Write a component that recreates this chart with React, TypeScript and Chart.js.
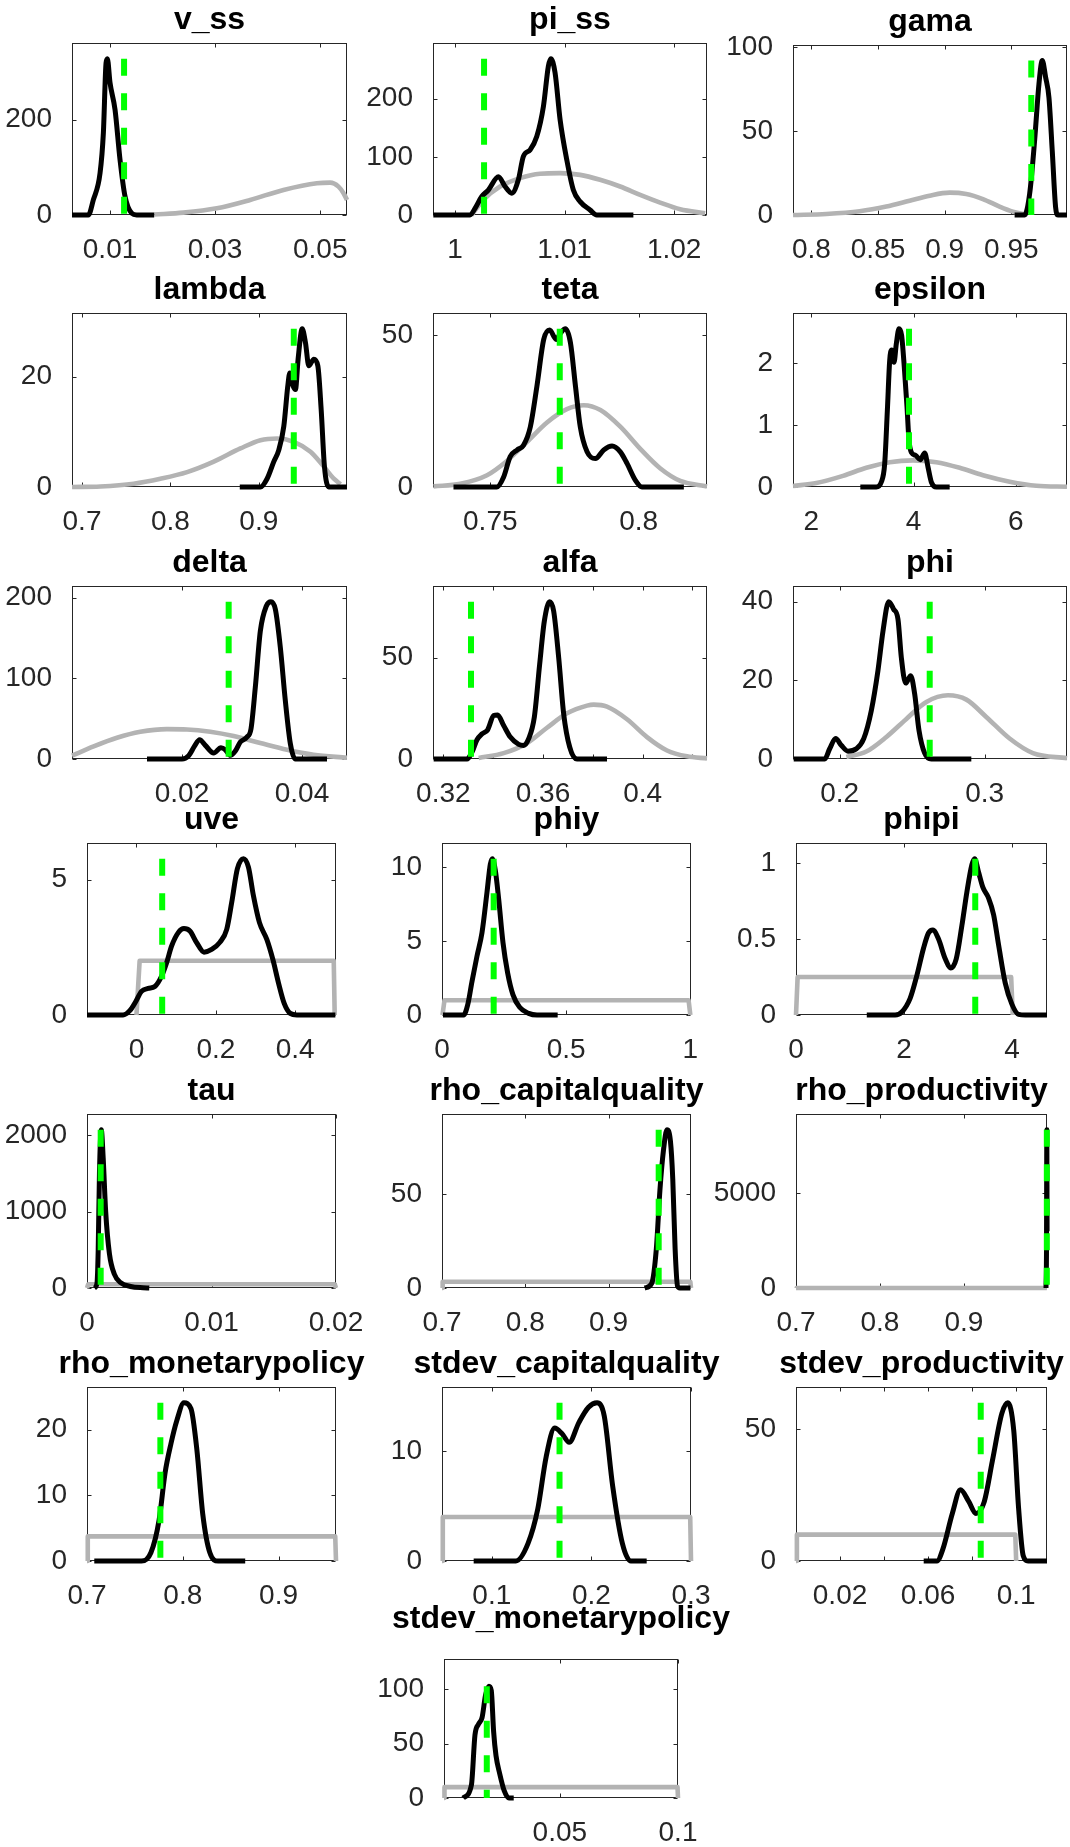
import React, { useEffect, useRef } from "react";
import { Chart, registerables } from "chart.js";
Chart.register(...registerables);

type Pt = [number, number];

// ---------------- data (x, density) ----------------
const VSS_POST: Pt[] = [[0.00276,0],[0.00587,0],[0.00682,31.6],[0.0081,88],[0.00873,172],[0.00924,319],[0.00949,328],[0.01,277],[0.01095,221],[0.0119,116],[0.01286,38.6],[0.01413,3.5],[0.01508,0],[0.0184,0]];
const VSS_PRIOR: Pt[] = [[0.0184,1],[0.02396,4.9],[0.03032,14],[0.03667,31.6],[0.04301,52.6],[0.04937,66.7],[0.0519,68],[0.05349,59.6],[0.05444,45.7],[0.0551,31.6]];
const VSS_MODE = 0.01267;

const PISS_POST: Pt[] = [[0.99802,0],[1.00137,0],[1.00183,11.5],[1.00244,31.7],[1.00304,43],[1.00396,66],[1.00457,49],[1.00518,37.5],[1.00578,60.5],[1.00624,101],[1.00685,112],[1.00746,135],[1.00807,187],[1.00852,256],[1.00874,269],[1.00913,245],[1.00959,164],[1.0102,95],[1.0108,43],[1.01142,23],[1.01233,8.7],[1.01294,0],[1.01628,0]];
const PISS_PRIOR: Pt[] = [[1.00152,0],[1.00259,26],[1.00411,49],[1.00594,63.5],[1.00776,71],[1.00959,72],[1.01142,69],[1.01324,60.5],[1.01507,49],[1.0169,34.6],[1.01872,21.3],[1.02055,9.8],[1.02283,3]];
const PISS_MODE = 1.00265;

const GAMA_POST: Pt[] = [[0.9525,0],[0.96,0],[0.96375,12.5],[0.9675,44.3],[0.97075,78],[0.97325,92],[0.97575,82],[0.97825,70],[0.98075,38],[0.98325,4.6],[0.985,0],[0.9918,0]];
const GAMA_PRIOR: Pt[] = [[0.7862,0],[0.8112,0.6],[0.8362,2.2],[0.8562,5],[0.8737,8.5],[0.8887,11.5],[0.9037,13.3],[0.9162,12.5],[0.9287,9.5],[0.9412,5],[0.9512,2],[0.96,0.4]];
const GAMA_MODE = 0.965;

const LAMBDA_POST: Pt[] = [[0.8785,0],[0.9019,0],[0.9094,1.5],[0.917,4.6],[0.9226,6.7],[0.9283,11],[0.9328,18.3],[0.9351,20.7],[0.9389,18.3],[0.9415,17.7],[0.9445,23.2],[0.9491,28.7],[0.9528,26.2],[0.9566,22],[0.9623,23.2],[0.9668,22],[0.9706,14],[0.9743,3.7],[0.9792,0],[0.9998,0]];
const LAMBDA_PRIOR: Pt[] = [[0.6887,0],[0.7208,0.1],[0.7585,0.6],[0.7887,1.5],[0.8189,2.7],[0.8491,4.6],[0.8792,7],[0.9019,8.5],[0.9208,8.8],[0.9396,8.2],[0.9585,6.4],[0.9736,3.7],[0.9849,1.5],[0.9925,0.5]];
const LAMBDA_MODE = 0.9396;

const TETA_POST: Pt[] = [[0.7376,0],[0.7522,0],[0.7545,3.3],[0.7567,10],[0.759,12.2],[0.7612,13.8],[0.7635,19.9],[0.7657,33.2],[0.768,48.7],[0.77,51.8],[0.7722,48.7],[0.7736,50.7],[0.7753,52.2],[0.777,47.6],[0.7787,33.2],[0.7803,19.9],[0.7826,11.6],[0.7854,9.4],[0.7882,12.2],[0.791,13.5],[0.7938,11.6],[0.7961,7.7],[0.7989,2.2],[0.8011,0],[0.8152,0]];
const TETA_PRIOR: Pt[] = [[0.7309,0.2],[0.7399,1.1],[0.7489,3.9],[0.7556,8.6],[0.7624,14.9],[0.7691,21.3],[0.7758,25.7],[0.7815,27],[0.7871,25.4],[0.7938,19.9],[0.8006,12.5],[0.8073,6.1],[0.814,2],[0.823,0.2]];
const TETA_MODE = 0.7734;

const EPS_POST: Pt[] = [[2.959,0],[3.272,0],[3.37,0.08],[3.436,0.375],[3.488,1.23],[3.534,2.04],[3.573,2.21],[3.618,2.01],[3.664,2.31],[3.716,2.55],[3.768,2.44],[3.82,1.93],[3.873,1.29],[3.912,0.75],[3.964,0.55],[4.042,0.51],[4.134,0.44],[4.219,0.55],[4.284,0.32],[4.349,0.08],[4.447,0],[4.708,0]];
const EPS_PRIOR: Pt[] = [[1.641,0.016],[2.098,0.064],[2.62,0.18],[3.077,0.31],[3.533,0.4],[3.99,0.43],[4.447,0.4],[4.904,0.31],[5.36,0.19],[5.883,0.086],[6.405,0.02],[7.005,0.005]];
const EPS_MODE = 3.912;

const DELTA_POST: Pt[] = [[0.01417,0],[0.02,0],[0.02111,4.1],[0.02206,15.6],[0.02294,23.9],[0.02389,16.9],[0.02528,7.4],[0.0265,14],[0.02722,11.5],[0.02806,4.5],[0.02889,9.9],[0.02972,21],[0.03083,27.2],[0.0315,37.4],[0.03222,88.9],[0.03306,158.8],[0.03406,189.7],[0.03483,195],[0.03556,185.6],[0.03639,138.3],[0.03722,72.4],[0.03806,18.9],[0.03889,0],[0.04417,0]];
const DELTA_PRIOR: Pt[] = [[0.00167,4.1],[0.00528,15.6],[0.00917,26.3],[0.01306,33.7],[0.0175,37],[0.02083,36.6],[0.02472,33.7],[0.02861,28.4],[0.03306,19.8],[0.0375,11.5],[0.04194,5.3],[0.0475,1.6]];
const DELTA_MODE = 0.02778;

const ALFA_POST: Pt[] = [[0.31612,0],[0.3295,0],[0.3315,3.4],[0.33351,9.5],[0.33552,12.4],[0.33779,14.4],[0.3402,21.4],[0.3418,21.7],[0.34421,16.5],[0.34689,10.8],[0.35023,7.2],[0.35224,6.7],[0.35425,10],[0.35652,20.6],[0.35866,46.7],[0.36054,68],[0.36268,77.5],[0.36428,72.9],[0.36629,50],[0.3683,22.2],[0.37071,5.9],[0.37365,0],[0.38569,0]];
const ALFA_PRIOR: Pt[] = [[0.33418,0.5],[0.34421,2.9],[0.35358,7.8],[0.3616,15.4],[0.36963,22.5],[0.37766,26.3],[0.38033,26.8],[0.38569,25.8],[0.39371,19.6],[0.40174,10.8],[0.40977,4.2],[0.41779,1.3],[0.42582,0.3]];
const ALFA_MODE = 0.3311;

const PHI_POST: Pt[] = [[0.1683,0],[0.1897,0],[0.1931,2.6],[0.1972,5.2],[0.2011,3.5],[0.2057,2],[0.2115,2.6],[0.2166,5.2],[0.2218,12.3],[0.2264,22.5],[0.2299,32.6],[0.2338,40],[0.2372,38.1],[0.2402,35.6],[0.2425,25.9],[0.2455,19.3],[0.249,21.2],[0.2517,16.6],[0.2547,7.3],[0.2586,1.5],[0.2632,0],[0.2908,0]];
const PHI_PRIOR: Pt[] = [[0.2046,0.5],[0.2184,1.9],[0.2322,5.6],[0.246,10.2],[0.2598,14.5],[0.2747,16.2],[0.2874,15.1],[0.3011,10.7],[0.3172,5.2],[0.3333,1.5],[0.3568,0.2]];
const PHI_MODE = 0.2621;

const UVE_POST: Pt[] = [[-0.1246,0],[-0.0337,0],[-0.0168,0.16],[-0.0017,0.5],[0.0126,0.87],[0.0295,0.98],[0.0463,1.05],[0.0632,1.43],[0.0758,1.92],[0.0884,2.54],[0.1053,3.04],[0.1196,3.19],[0.1347,3.1],[0.1516,2.67],[0.1701,2.32],[0.1895,2.42],[0.2105,2.69],[0.2274,3.16],[0.24,4.16],[0.2543,5.4],[0.2695,5.77],[0.2821,5.46],[0.2947,4.4],[0.3099,3.41],[0.3284,2.79],[0.3436,2.05],[0.3579,1.18],[0.3722,0.43],[0.3874,0.06],[0.4042,0],[0.5011,0]];
const UVE_PRIOR: Pt[] = [[0,0],[0.008,2],[0.497,2],[0.4994,0]];
const UVE_MODE = 0.0648;

const PHIY_POST: Pt[] = [[0.004,0],[0.0872,0],[0.1034,0.68],[0.1208,2.27],[0.1409,3.98],[0.1611,5.57],[0.1812,8.3],[0.1946,10.2],[0.2027,10.57],[0.2148,9.77],[0.2282,7.84],[0.2456,4.89],[0.2644,2.84],[0.2859,1.36],[0.3128,0.52],[0.349,0.11],[0.3826,0],[0.4658,0]];
const PHIY_PRIOR: Pt[] = [[0.002,0],[0.01,1],[0.993,1],[1.0,0]];
const PHIY_MODE = 0.2081;

const PHIPI_POST: Pt[] = [[1.311,0],[1.836,0],[1.96,0.02],[2.114,0.11],[2.238,0.26],[2.362,0.44],[2.454,0.54],[2.535,0.56],[2.64,0.5],[2.764,0.37],[2.869,0.31],[2.968,0.37],[3.073,0.59],[3.165,0.81],[3.258,0.99],[3.308,1.03],[3.382,0.94],[3.462,0.84],[3.567,0.77],[3.66,0.66],[3.753,0.46],[3.876,0.21],[4.0,0.07],[4.124,0.004],[4.247,0],[4.649,0]];
const PHIPI_PRIOR: Pt[] = [[0,0],[0.03,0.25],[3.985,0.25],[4.015,0]];
const PHIPI_MODE = 3.32;

const TAU_POST: Pt[] = [[0.0006,0],[0.0008,60],[0.0009,500],[0.001,1500],[0.00115,2068],[0.0013,1700],[0.0015,1000],[0.0018,450],[0.0022,180],[0.0027,70],[0.0035,20],[0.0045,3],[0.005,0]];
const TAU_PRIOR: Pt[] = [[0,0],[0.0001,50],[0.0199,50],[0.02,0]];
const TAU_MODE = 0.0011;

const RHOCQ_POST: Pt[] = [[0.9433,0],[0.9518,2.5],[0.9574,21],[0.9617,52],[0.9659,73],[0.9701,84],[0.9743,78],[0.9771,58],[0.9799,21],[0.9828,1],[0.9856,0],[0.9983,0]];
const RHOCQ_PRIOR: Pt[] = [[0.7,0],[0.7008,3.34],[0.9982,3.34],[0.999,0]];
const RHOCQ_MODE = 0.9602;

const RHOP_POST: Pt[] = [[0.9978,0],[0.9984,2000],[0.9988,8360],[0.9991,3000],[0.9994,0]];
const RHOP_PRIOR: Pt[] = [[0.7,0],[0.7008,3.34],[0.9982,3.34],[0.999,0]];
const RHOP_MODE = 0.9988;

const RHOMP_POST: Pt[] = [[0.7076,0],[0.7569,0],[0.7667,1.25],[0.7753,6.25],[0.7815,13.4],[0.7877,17.9],[0.7938,21.4],[0.8012,24.1],[0.8086,23.2],[0.8147,17],[0.8209,7.1],[0.8283,1.25],[0.8369,0],[0.8652,0]];
const RHOMP_PRIOR: Pt[] = [[0.7,0],[0.7008,3.75],[0.9592,3.75],[0.96,0]];
const RHOMP_MODE = 0.7766;

const SDCQ_POST: Pt[] = [[0.0818,0],[0.1242,0],[0.1364,1.6],[0.1461,4.7],[0.1546,9.5],[0.1631,12.1],[0.1704,11.6],[0.1777,10.8],[0.1874,12.6],[0.1971,14],[0.2057,14.4],[0.2129,13.2],[0.2214,6.8],[0.2311,1.6],[0.2396,0],[0.2555,0]];
const SDCQ_PRIOR: Pt[] = [[0.05,0],[0.0508,4],[0.2992,4],[0.3,0]];
const SDCQ_MODE = 0.168;

const SDP_POST: Pt[] = [[0.058,0],[0.064,0],[0.0667,4.5],[0.071,18],[0.0747,27],[0.0785,22.5],[0.0817,18],[0.0855,22.5],[0.0892,38],[0.0935,56],[0.0962,60],[0.0989,49.5],[0.1011,20],[0.1032,2],[0.1054,0],[0.114,0]];
const SDP_PRIOR: Pt[] = [[0,0],[0.0004,10],[0.0996,10],[0.1,0]];
const SDP_MODE = 0.0839;

const SDMP_POST: Pt[] = [[0.0091,0],[0.0126,12],[0.0141,58],[0.0156,68],[0.0171,74],[0.0186,95],[0.02,103],[0.021,99],[0.022,61],[0.023,39],[0.0245,23],[0.0265,6.5],[0.0285,0],[0.0305,0]];
const SDMP_PRIOR: Pt[] = [[0.001,0],[0.0012,10],[0.0998,10],[0.1,0]];
const SDMP_MODE = 0.0191;

// ---------------- axes: titles, limits, ticks ----------------
const TITLES = ["v_ss","pi_ss","gama","lambda","teta","epsilon","delta","alfa","phi","uve","phiy","phipi","tau","rho_capitalquality","rho_productivity","rho_monetarypolicy","stdev_capitalquality","stdev_productivity","stdev_monetarypolicy"];
const XLIMS: [number, number][] = [[0.00276,0.0551],[0.99799,1.023],[0.7862,0.9918],[0.6887,0.9998],[0.7307,0.823],[1.641,7.005],[0.00167,0.0475],[0.31585,0.42582],[0.1678,0.3568],[-0.1246,0.5027],[0,1.0027],[0,4.649],[0,0.02],[0.7,0.999],[0.7,0.999],[0.7,0.96],[0.05,0.3],[0,0.114],[0.001,0.1]];
// explicit upper y limit where it is not 1.1 x the highest curve (0 = automatic)
const YMAX_READ: number[] = [0,0,0,0,0,0,0,0,0,0,0,0,0,0,0,0,0,0,128];
const XTICKS: number[][] = [[0.01,0.03,0.05],[1,1.01,1.02],[0.8,0.85,0.9,0.95],[0.7,0.8,0.9],[0.75,0.8],[2,4,6],[0.02,0.04],[0.32,0.34,0.36,0.38,0.4,0.42],[0.2,0.3],[0,0.2,0.4],[0,0.5,1],[0,2,4],[0,0.01,0.02],[0.7,0.8,0.9],[0.7,0.8,0.9],[0.7,0.8,0.9],[0.1,0.2,0.3],[0.02,0.04,0.06,0.08,0.1],[0.05,0.1]];
const XLABELS: string[][] = [["0.01","0.03","0.05"],["1","1.01","1.02"],["0.8","0.85","0.9","0.95"],["0.7","0.8","0.9"],["0.75","0.8"],["2","4","6"],["0.02","0.04"],["0.32","","0.36","","0.4",""],["0.2","0.3"],["0","0.2","0.4"],["0","0.5","1"],["0","2","4"],["0","0.01","0.02"],["0.7","0.8","0.9"],["0.7","0.8","0.9"],["0.7","0.8","0.9"],["0.1","0.2","0.3"],["0.02","","0.06","","0.1"],["0.05","0.1"]];
const YTICKS: number[][] = [[0,200],[0,100,200],[0,50,100],[0,20],[0,50],[0,1,2],[0,100,200],[0,50],[0,20,40],[0,5],[0,5,10],[0,0.5,1],[0,1000,2000],[0,50],[0,5000],[0,10,20],[0,10],[0,50],[0,50,100]];
const YLABELS: string[][] = [["0","200"],["0","100","200"],["0","50","100"],["0","20"],["0","50"],["0","1","2"],["0","100","200"],["0","50"],["0","20","40"],["0","5"],["0","5","10"],["0","0.5","1"],["0","1000","2000"],["0","50"],["0","5000"],["0","10","20"],["0","10"],["0","50"],["0","50","100"]];
const POSTS: Pt[][] = [VSS_POST,PISS_POST,GAMA_POST,LAMBDA_POST,TETA_POST,EPS_POST,DELTA_POST,ALFA_POST,PHI_POST,UVE_POST,PHIY_POST,PHIPI_POST,TAU_POST,RHOCQ_POST,RHOP_POST,RHOMP_POST,SDCQ_POST,SDP_POST,SDMP_POST];
const PRIORS: Pt[][] = [VSS_PRIOR,PISS_PRIOR,GAMA_PRIOR,LAMBDA_PRIOR,TETA_PRIOR,EPS_PRIOR,DELTA_PRIOR,ALFA_PRIOR,PHI_PRIOR,UVE_PRIOR,PHIY_PRIOR,PHIPI_PRIOR,TAU_PRIOR,RHOCQ_PRIOR,RHOP_PRIOR,RHOMP_PRIOR,SDCQ_PRIOR,SDP_PRIOR,SDMP_PRIOR];
const MODES: number[] = [VSS_MODE,PISS_MODE,GAMA_MODE,LAMBDA_MODE,TETA_MODE,EPS_MODE,DELTA_MODE,ALFA_MODE,PHI_MODE,UVE_MODE,PHIY_MODE,PHIPI_MODE,TAU_MODE,RHOCQ_MODE,RHOP_MODE,RHOMP_MODE,SDCQ_MODE,SDP_MODE,SDMP_MODE];
const UNIFORM_PRIOR: boolean[] = [false,false,false,false,false,false,false,false,false,true,true,true,true,true,true,true,true,true,true];

// ---------------- layout (pixel boxes of each axes: left, top, right, bottom) ----------------
const BOXES: [number, number, number, number][] = [
  [72,43,347,215],[433,43,707,215],[793,45,1067,215],
  [72,313,347,487],[433,313,707,487],[793,313,1067,487],
  [72,586,347,759],[433,586,707,759],[793,586,1067,759],
  [87,843,336,1015],[442,843,691,1015],[796,843,1047,1015],
  [87,1114,336,1288],[442,1114,691,1288],[796,1114,1047,1288],
  [87,1387,336,1561],[442,1387,691,1561],[796,1387,1047,1561],
  [444,1659,678,1798],
];
const TITLE_GAP: number[] = [14,14,14,14,14,14,14,14,14,14,14,14,14,14,14,14,14,14,31];

const PADL = 90, PADT = 60, PADR = 75, PADB = 55;
const FONT = '"Liberation Sans", Arial, Helvetica, sans-serif';
const AXIS_COLOR = "#262626";

function Panel({ i }: { i: number }) {
  const ref = useRef<HTMLCanvasElement | null>(null);
  const [l, t, r, b] = BOXES[i];
  const w = r - l + PADL + PADR;
  const h = b - t + PADT + PADB;

  useEffect(() => {
    const post = POSTS[i];
    const prior = PRIORS[i];
    const peak = Math.max(...post.map((p) => p[1]));
    const ymax = YMAX_READ[i] > 0 ? YMAX_READ[i] : 1.1 * Math.max(peak, ...prior.map((p) => p[1]));
    const xt = XTICKS[i], xl = XLABELS[i], yt = YTICKS[i], yl = YLABELS[i];
    const title = TITLES[i];
    const gap = TITLE_GAP[i];

    const frame = {
      id: "frame",
      beforeDatasetsDraw(chart: any) {
        const { ctx, chartArea: a } = chart;
        const xs = chart.scales.x, ys = chart.scales.y;
        ctx.save();
        ctx.strokeStyle = AXIS_COLOR;
        ctx.lineWidth = 1;
        const L = Math.round(a.left) + 0.5, R = Math.round(a.right) - 0.5;
        const T = Math.round(a.top) + 0.5, B = Math.round(a.bottom) - 0.5;
        ctx.strokeRect(L, T, R - L, B - T);
        const tl = 4;
        ctx.beginPath();
        xt.forEach((v) => {
          const px = Math.round(xs.getPixelForValue(v)) + 0.5;
          ctx.moveTo(px, B); ctx.lineTo(px, B - tl);
          ctx.moveTo(px, T); ctx.lineTo(px, T + tl);
        });
        yt.forEach((v) => {
          const py = Math.round(ys.getPixelForValue(v)) + 0.5;
          ctx.moveTo(L, py); ctx.lineTo(L + tl, py);
          ctx.moveTo(R, py); ctx.lineTo(R - tl, py);
        });
        ctx.stroke();
        ctx.restore();
      },
      afterDraw(chart: any) {
        const { ctx, chartArea: a } = chart;
        ctx.save();
        ctx.fillStyle = "#000";
        ctx.font = `bold 32px ${FONT}`;
        ctx.textAlign = "center";
        ctx.textBaseline = "alphabetic";
        ctx.fillText(title, (a.left + a.right) / 2, a.top - gap);
        ctx.restore();
      },
    };

    const uniform = UNIFORM_PRIOR[i];
    const chart = new Chart(ref.current as HTMLCanvasElement, {
      type: "line",
      data: {
        datasets: [
          {
            data: [{ x: MODES[i], y: peak }, { x: MODES[i], y: 0 }],
            borderColor: "#00ff00",
            borderWidth: 6,
            borderDash: [17, 17.5],
            pointRadius: 0,
            tension: 0,
            clip: false,
          } as any,
          {
            data: post.map(([x, y]) => ({ x, y })),
            borderColor: "#000000",
            borderWidth: 5,
            pointRadius: 0,
            cubicInterpolationMode: "monotone",
            borderJoinStyle: "round",
            clip: false,
          },
          {
            data: prior.map(([x, y]) => ({ x, y })),
            borderColor: "#b3b3b3",
            borderWidth: 4.6,
            pointRadius: 0,
            cubicInterpolationMode: uniform ? "default" : "monotone",
            tension: 0,
            borderJoinStyle: "round",
            clip: false,
          },
        ],
      },
      options: {
        animation: false,
        responsive: false,
        devicePixelRatio: 1,
        events: [],
        layout: { padding: { left: 0, top: PADT, right: PADR, bottom: 0 } },
        plugins: { legend: { display: false }, tooltip: { enabled: false }, title: { display: false } },
        scales: {
          x: {
            type: "linear",
            min: XLIMS[i][0],
            max: XLIMS[i][1],
            grid: { display: false },
            border: { display: false },
            ticks: {
              autoSkip: false,
              maxRotation: 0,
              minRotation: 0,
              padding: 10,
              color: AXIS_COLOR,
              font: { family: FONT, size: 28 },
              callback: (_v: any, idx: number) => xl[idx],
            },
            afterBuildTicks: (s: any) => { s.ticks = xt.map((v) => ({ value: v })); },
            afterFit: (s: any) => { s.height = PADB; s.paddingLeft = 0; s.paddingRight = 0; },
          },
          y: {
            type: "linear",
            min: 0,
            max: ymax,
            grid: { display: false },
            border: { display: false },
            ticks: {
              autoSkip: false,
              padding: 12,
              color: AXIS_COLOR,
              font: { family: FONT, size: 28 },
              callback: (_v: any, idx: number) => yl[idx],
            },
            afterBuildTicks: (s: any) => { s.ticks = yt.map((v) => ({ value: v })); },
            afterFit: (s: any) => { s.width = PADL; s.paddingTop = 0; s.paddingBottom = 0; },
          },
        },
      } as any,
      plugins: [frame],
    });
    return () => chart.destroy();
  }, [i]);

  return (
    <canvas
      ref={ref}
      width={w}
      height={h}
      style={{ position: "absolute", left: l - PADL, top: t - PADT, width: w, height: h }}
    />
  );
}

export default function App() {
  return (
    <div style={{ position: "absolute", left: 0, top: 0, width: 1070, height: 1847, background: "#ffffff", overflow: "hidden" }}>
      {TITLES.map((_, i) => (
        <Panel key={i} i={i} />
      ))}
    </div>
  );
}
